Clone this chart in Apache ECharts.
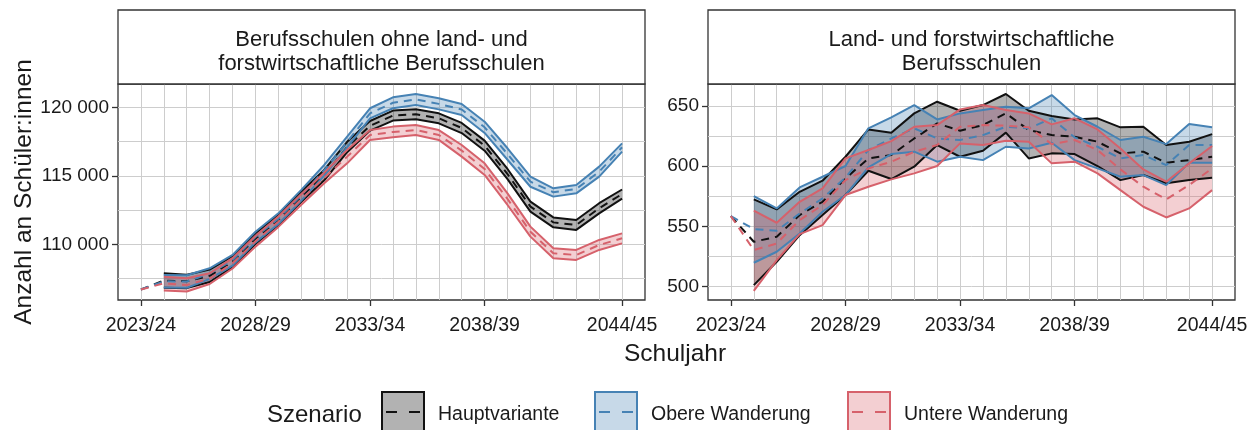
<!DOCTYPE html>
<html><head><meta charset="utf-8">
<script src="https://cdn.jsdelivr.net/npm/echarts@6/dist/echarts.min.js"></script>
<style>html,body{margin:0;padding:0;background:#fff}#c{width:1256px;height:430px}</style>
</head><body><div id="c"></div>
<script>
// ---------- data ----------
const years = [2023,2024,2025,2026,2027,2028,2029,2030,2031,2032,2033,2034,2035,2036,2037,2038,2039,2040,2041,2042,2043,2044];
const ribbonYears = [2024,2025,2026,2027,2028,2029,2030,2031,2032,2033,2034,2035,2036,2037,2038,2039,2040,2041,2042,2043,2044];
const tickYears = [2023, 2028, 2033, 2038, 2044];
const tickLabels = ['2023/24', '2028/29', '2033/34', '2038/39', '2044/45'];
const gridYears = [2023,2024,2025,2026,2027,2028,2029,2030,2031,2032,2033,2034,2035,2036,2037,2038,2039,2040,2041,2042,2043,2044];

const panelTitles = ['Berufsschulen ohne land- und\nforstwirtschaftliche Berufsschulen', 'Land- und forstwirtschaftliche\nBerufsschulen'];
const scenarios = ['Hauptvariante', 'Obere Wanderung', 'Untere Wanderung'];

// Panel 1: Berufsschulen ohne land- und forstwirtschaftliche Berufsschulen
const p1Ticks = [110000, 115000, 120000];
const p1Grid = [107500, 110000, 112500, 115000, 117500, 120000];
const p1HauptMid = [106700,107350,107300,107700,108730,110410,111780,113480,115050,117100,118650,119390,119490,119200,118490,117200,115130,112750,111600,111410,112630,113670];
const p1HauptUpper = [107880,107780,108150,109130,110800,112160,113860,115430,117480,119000,119760,119850,119560,118860,117570,115500,113110,111960,111770,113000,114000];
const p1HauptLower = [106830,106800,107250,108330,110020,111400,113100,114670,116720,118300,119030,119120,118830,118120,116830,114760,112390,111240,111050,112260,113340];
const p1ObereMid = [106700,107300,107280,107860,108830,110530,111870,113580,115400,117470,119560,120330,120570,120250,119840,118540,116590,114570,113800,114040,115300,117080];
const p1ObereUpper = [107760,107740,108250,109220,110920,112260,113970,115790,117860,119930,120730,120970,120660,120240,118950,117010,114940,114090,114330,115670,117370];
const p1ObereLower = [106850,106820,107470,108440,110140,111480,113190,115010,117080,119190,119930,120170,119850,119440,118130,116170,114200,113480,113720,114940,116760];
const p1UntereMid = [106700,107150,107030,107490,108610,110220,111650,113280,114840,116400,117980,118200,118340,117980,116840,115500,113310,110920,109340,109220,109950,110440];
const p1UntereUpper = [107640,107520,107880,108990,110600,112030,113660,115230,116880,118340,118590,118710,118340,117250,115910,113720,111290,109710,109590,110320,110800];
const p1UntereLower = [106620,106550,107100,108230,109830,111270,112880,114450,115910,117610,117810,117980,117620,116400,115060,112870,110560,108980,108860,109590,110070];

// Panel 2: Land- und forstwirtschaftliche Berufsschulen
const p2Ticks = [500, 550, 600, 650];
const p2Grid = [500, 525, 550, 575, 600, 625, 650];
const p2HauptMid = [558.6,537.3,541.5,559.5,570.5,589.9,606.5,609.3,623.1,635.6,629.5,634.2,643.9,630.1,625.9,624.5,620.4,610.7,612.1,602.9,605.1,607.9];
const p2HauptUpper = [572.5,564.2,578.8,588.0,607.9,630.6,627.9,643.9,653.6,646.1,650.8,660.0,646.1,641.7,638.9,639.8,632.3,632.8,617.6,620.4,626.7];
const p2HauptLower = [501.3,520.7,542.8,559.5,576.1,596.3,589.4,599.6,617.6,607.9,612.9,627.9,606.5,610.7,610.1,600.2,588.5,592.7,585.8,588.5,590.5];
const p2ObereMid = [558.6,547.8,546.4,560.8,573.3,590.7,613.5,623.1,631.5,623.1,621.8,625.9,632.8,631.5,639.8,624.0,616.2,606.5,609.3,601.0,617.6,617.6];
const p2ObereUpper = [575.2,565.0,582.4,591.3,600.2,631.5,640.6,650.8,638.9,643.9,646.7,649.4,648.1,659.1,642.5,632.8,621.8,624.5,618.4,635.0,632.3];
const p2ObereLower = [519.9,529.0,544.2,562.2,576.1,599.1,610.1,612.1,603.8,607.9,605.1,616.2,614.8,619.5,605.1,598.2,591.3,592.7,584.4,602.9,602.9];
const p2UntereMid = [558.6,530.4,535.9,555.3,567.8,588.5,598.2,603.8,612.1,617.6,632.8,634.2,633.7,632.3,618.4,621.8,613.5,597.4,583.0,572.5,584.4,598.2];
const p2UntereUpper = [563.1,553.1,570.5,581.6,606.5,613.5,620.9,632.8,634.2,647.2,650.8,646.7,643.9,634.8,639.8,630.6,614.8,597.4,587.2,602.4,616.8];
const p2UntereLower = [496.6,522.1,543.7,551.1,576.1,583.0,589.1,594.1,600.2,619.0,617.6,621.2,620.4,602.4,603.8,594.1,580.2,566.4,557.5,565.0,580.2];

// ---------- style ----------
const FONT = '"Liberation Sans", Arial, Helvetica, sans-serif';
const lineColors = ['#111111', '#4682B4', '#D6616B'];
const fillColors = ['rgba(0,0,0,0.3)', 'rgba(70,130,180,0.3)', 'rgba(214,97,107,0.3)'];
const GRID_COLOR = '#cdcdcd';
const AXIS_COLOR = '#333333';
const TEXT_COLOR = '#1a1a1a';

const panels = [
  {left: 118, yMin: 105934, yMax: 121701, ticks: p1Ticks, grid: p1Grid,
   mids: [p1HauptMid, p1ObereMid, p1UntereMid],
   uppers: [p1HauptUpper, p1ObereUpper, p1UntereUpper],
   lowers: [p1HauptLower, p1ObereLower, p1UntereLower]},
  {left: 708, yMin: 488.96, yMax: 668.3, ticks: p2Ticks, grid: p2Grid,
   mids: [p2HauptMid, p2ObereMid, p2UntereMid],
   uppers: [p2HauptUpper, p2ObereUpper, p2UntereUpper],
   lowers: [p2HauptLower, p2ObereLower, p2UntereLower]}
];
const PANEL_TOP = 84, PANEL_H = 216, PANEL_W = 527, STRIP_TOP = 10;

function fmtThousands(v) { return String(Math.round(v)).replace(/\B(?=(\d{3})+(?!\d))/g, ' '); }
function pairs(xs, ys) { return xs.map((x, i) => [x, ys[i]]); }

const grids = [], xAxes = [], yAxes = [], series = [], graphics = [];
panels.forEach((p, pi) => {
  grids.push({left: p.left, top: PANEL_TOP, width: PANEL_W, height: PANEL_H, show: true,
    borderColor: AXIS_COLOR, borderWidth: 1.3, backgroundColor: '#ffffff', containLabel: false, outerBoundsMode: 'none'});
  // grid-line axes
  xAxes.push({type: 'value', gridIndex: pi, position: 'bottom', min: 2022, max: 2045,
    axisLine: {show: false}, axisLabel: {show: false},
    axisTick: {show: false, customValues: gridYears},
    splitLine: {show: true, lineStyle: {color: GRID_COLOR, width: 1}}});
  // labelled axes
  xAxes.push({type: 'value', gridIndex: pi, position: 'bottom', min: 2022, max: 2045,
    axisLine: {show: false},
    axisTick: {show: true, customValues: tickYears, length: 6, lineStyle: {color: AXIS_COLOR, width: 1.3}},
    axisLabel: {show: true, customValues: tickYears, margin: 16, color: TEXT_COLOR, fontSize: 19.5, fontFamily: FONT,
      formatter: v => tickLabels[tickYears.indexOf(Math.round(v))] || ''},
    splitLine: {show: false}});
  yAxes.push({type: 'value', gridIndex: pi, position: 'left', min: p.yMin, max: p.yMax,
    axisLine: {show: false}, axisLabel: {show: false},
    axisTick: {show: false, customValues: p.grid},
    splitLine: {show: true, lineStyle: {color: GRID_COLOR, width: 1}}});
  yAxes.push({type: 'value', gridIndex: pi, position: 'left', min: p.yMin, max: p.yMax,
    axisLine: {show: false},
    axisTick: {show: true, customValues: p.ticks, length: 6, lineStyle: {color: AXIS_COLOR, width: 1.3}},
    axisLabel: {show: true, customValues: p.ticks, margin: 9, color: TEXT_COLOR, fontSize: 19, fontFamily: FONT,
      formatter: v => fmtThousands(v)},
    splitLine: {show: false}});

  const xi = 2 * pi, yi = 2 * pi;
  scenarios.forEach((name, si) => {
    const lo = p.lowers[si], up = p.uppers[si];
    // ribbon fill as one polygon through the axes' scales
    series.push({type: 'custom', name: name, xAxisIndex: xi, yAxisIndex: yi, silent: true, clip: true,
      data: ribbonYears.map((x, i) => [x, lo[i], up[i]]),
      encode: {x: 0, y: [1, 2]},
      renderItem: (params, api) => {
        if (params.dataIndex !== 0) return null;
        const pts = [];
        for (let i = 0; i < ribbonYears.length; i++) pts.push(api.coord([ribbonYears[i], up[i]]));
        for (let i = ribbonYears.length - 1; i >= 0; i--) pts.push(api.coord([ribbonYears[i], lo[i]]));
        return {type: 'polygon', shape: {points: pts}, style: {fill: fillColors[si], stroke: null}};
      }});
    series.push({type: 'line', name: name, xAxisIndex: xi, yAxisIndex: yi, silent: true,
      data: pairs(ribbonYears, lo), symbol: 'none', lineStyle: {color: lineColors[si], width: 2}});
    series.push({type: 'line', name: name, xAxisIndex: xi, yAxisIndex: yi, silent: true,
      data: pairs(ribbonYears, up), symbol: 'none', lineStyle: {color: lineColors[si], width: 2}});
    series.push({type: 'line', name: name, xAxisIndex: xi, yAxisIndex: yi, silent: true,
      data: pairs(years, p.mids[si]), symbol: 'none', lineStyle: {color: lineColors[si], width: 2, type: [8, 6]}});
  });

  // strip
  graphics.push({type: 'rect', shape: {x: p.left, y: STRIP_TOP, width: PANEL_W, height: PANEL_TOP - STRIP_TOP},
    style: {fill: '#ffffff', stroke: AXIS_COLOR, lineWidth: 1.3}, z: 10});
  graphics.push({type: 'text', x: p.left + PANEL_W / 2, y: 52, z: 11,
    style: {text: panelTitles[pi], font: '22px ' + FONT, fill: TEXT_COLOR, align: 'center', verticalAlign: 'middle', lineHeight: 23.5}});
});

// axis titles
graphics.push({type: 'text', x: 24, y: 192, rotation: Math.PI / 2,
  style: {text: 'Anzahl an Schüler:innen', font: '24.5px ' + FONT, fill: TEXT_COLOR, align: 'center', verticalAlign: 'middle'}});
graphics.push({type: 'text', x: 675, y: 354,
  style: {text: 'Schuljahr', font: '24.5px ' + FONT, fill: TEXT_COLOR, align: 'center', verticalAlign: 'middle'}});

// legend
graphics.push({type: 'text', x: 267, y: 415,
  style: {text: 'Szenario', font: '24px ' + FONT, fill: TEXT_COLOR, align: 'left', verticalAlign: 'middle'}});
const keyX = [382, 595, 848];
scenarios.forEach((name, si) => {
  const kx = keyX[si];
  graphics.push({type: 'rect', shape: {x: kx, y: 392, width: 42, height: 44},
    style: {fill: fillColors[si], stroke: lineColors[si], lineWidth: 2}});
  graphics.push({type: 'line', shape: {x1: kx + 4, y1: 412, x2: kx + 38, y2: 412},
    style: {stroke: lineColors[si], lineWidth: 2, lineDash: [11, 12]}});
  graphics.push({type: 'text', x: kx + 56, y: 415,
    style: {text: name, font: '19.5px ' + FONT, fill: TEXT_COLOR, align: 'left', verticalAlign: 'middle'}});
});

const chart = echarts.init(document.getElementById('c'), null, {renderer: 'canvas', width: 1256, height: 430});
chart.setOption({
  animation: false,
  backgroundColor: '#ffffff',
  grid: grids, xAxis: xAxes, yAxis: yAxes, series: series, graphic: graphics
});
</script>
</body></html>
